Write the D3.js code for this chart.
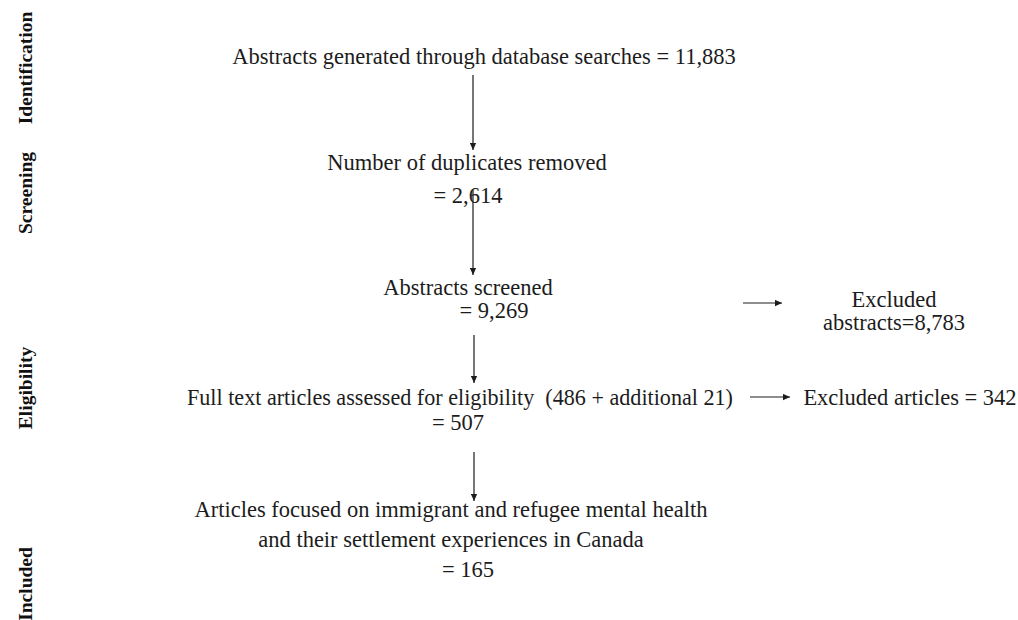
<!DOCTYPE html>
<html><head><meta charset="utf-8">
<script src="https://cdn.jsdelivr.net/npm/d3@7"></script>
<style>body{margin:0;background:#fff}svg{display:block}</style>
</head><body><svg id="c" width="1018" height="620"></svg>
<script>
// ---- data ----
const stages = ["Identification", "Screening", "Eligibility", "Included"];
const stepLabels = [
  "Abstracts generated through database searches",
  "Number of duplicates removed",
  "Abstracts screened",
  "Full text articles assessed for eligibility  (486 + additional 21)",
  "Articles focused on immigrant and refugee mental health|and their settlement experiences in Canada"
];
const stepCounts = [11883, 2614, 9269, 507, 165];
const excludedLabels = ["Excluded|abstracts=", "Excluded articles = "];
const excludedCounts = [8783, 342];

// ---- layout ----
const svg = d3.select("#c");
const fmt = d3.format(",");
const ink = "#1c1c1c";
const font = "'Liberation Serif','Times New Roman',serif";
const fs = 22.5;

svg.append("defs").append("marker")
  .attr("id", "ah").attr("viewBox", "0 0 10 10").attr("refX", 10).attr("refY", 5)
  .attr("markerWidth", 8).attr("markerHeight", 7).attr("markerUnits", "userSpaceOnUse")
  .attr("orient", "auto")
  .append("path").attr("d", "M0,0.5 L10,5 L0,9.5 Z").attr("fill", ink);

// stage labels (rotated)
const stageYs = [68, 193, 388, 584];
svg.selectAll("text.stage").data(stages).join("text")
  .attr("class", "stage")
  .attr("transform", (d, i) => `translate(32,${stageYs[i]}) rotate(-90)`)
  .attr("text-anchor", "middle")
  .attr("font-family", font).attr("font-weight", "bold").attr("font-size", 19.5)
  .attr("fill", "#111").text(d => d);

// step text blocks
const blocks = [
  {lines: [{t: stepLabels[0] + " = " + fmt(stepCounts[0]), x: 484, y: 64}]},
  {lines: [{t: stepLabels[1], x: 467, y: 170}, {t: "= " + fmt(stepCounts[1]), x: 468, y: 203}]},
  {lines: [{t: stepLabels[2], x: 468, y: 295}, {t: "= " + fmt(stepCounts[2]), x: 494, y: 318}]},
  {lines: [{t: stepLabels[3], x: 460, y: 405, w: 546}, {t: "= " + fmt(stepCounts[3]), x: 458, y: 430}]},
  {lines: [
    {t: stepLabels[4].split("|")[0], x: 451, y: 517},
    {t: stepLabels[4].split("|")[1], x: 451, y: 547},
    {t: "= " + fmt(stepCounts[4]), x: 468, y: 577}]}
];
const exBlocks = [
  {lines: [{t: excludedLabels[0].split("|")[0], x: 894, y: 307}, {t: excludedLabels[0].split("|")[1] + fmt(excludedCounts[0]), x: 894, y: 330}]},
  {lines: [{t: excludedLabels[1] + fmt(excludedCounts[1]), x: 910, y: 405}]}
];
const allLines = blocks.concat(exBlocks).flatMap(b => b.lines);
svg.selectAll("text.step").data(allLines).join("text")
  .attr("class", "step")
  .attr("x", d => d.x).attr("y", d => d.y)
  .attr("text-anchor", "middle")
  .attr("font-family", font).attr("font-size", fs)
  .attr("fill", ink)
  .style("white-space", "pre")
  .each(function(d) { if (d.w) d3.select(this).attr("textLength", d.w).attr("lengthAdjust", "spacingAndGlyphs"); })
  .text(d => d.t);

// arrows
const arrows = [
  {x1: 473, y1: 75, x2: 473, y2: 150},
  {x1: 473, y1: 190, x2: 473, y2: 275},
  {x1: 474, y1: 335, x2: 474, y2: 383},
  {x1: 474, y1: 452, x2: 474, y2: 501},
  {x1: 743, y1: 303, x2: 782, y2: 303},
  {x1: 750, y1: 397, x2: 790, y2: 397}
];
svg.selectAll("line.arrow").data(arrows).join("line")
  .attr("class", "arrow")
  .attr("x1", d => d.x1).attr("y1", d => d.y1)
  .attr("x2", d => d.x2).attr("y2", d => d.y2)
  .attr("stroke", ink).attr("stroke-width", 1.2)
  .attr("marker-end", "url(#ah)");
</script></body></html>
